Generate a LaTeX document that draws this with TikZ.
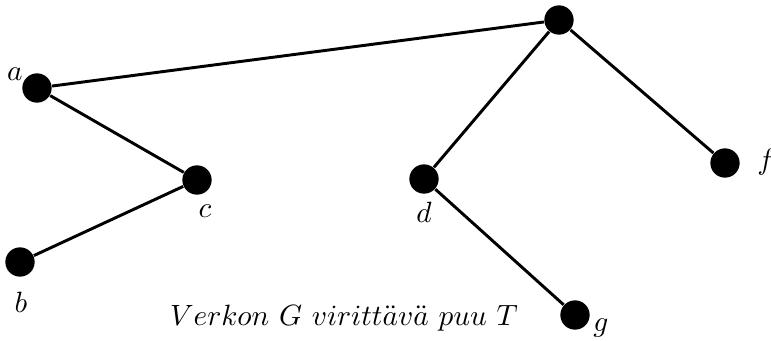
\documentclass[tikz,border=0pt]{standalone}
\begin{document}
\begin{tikzpicture}[x=0.341pt,y=-0.341pt,
  vtx/.style={circle,fill=black,inner sep=0pt,minimum size=10pt},
  edge/.style={line width=1pt},
  lbl/.style={inner sep=0pt}]
\useasboundingbox (0,0) rectangle (771,340);
\node[vtx] (e) at (559,20) {};
\node[vtx] (a) at (37,88) {};
\node[vtx] (c) at (197,180) {};
\node[vtx] (b) at (20,262) {};
\node[vtx] (d) at (424,179) {};
\node[vtx] (f) at (725,163) {};
\node[vtx] (g) at (575,315) {};
\draw[edge] (e) -- (a);
\draw[edge] (a) -- (c);
\draw[edge] (c) -- (b);
\draw[edge] (e) -- (d);
\draw[edge] (e) -- (f);
\draw[edge] (d) -- (g);
\node[lbl] (la) at (15,74) {$a$};
\node[lbl] (lc) at (205,211) {$c$};
\node[lbl] (lb) at (21,302) {$b$};
\node[lbl] (ld) at (424,212) {$d$};
\node[lbl] (lf) at (766,162) {$f$};
\node[lbl] (lg) at (601,328) {$g$};
\node[lbl] (title) at (344,318) {$Verkon\ G\ viritt\ddot{a}v\ddot{a}\ puu\ T$};
\end{tikzpicture}
\end{document}
